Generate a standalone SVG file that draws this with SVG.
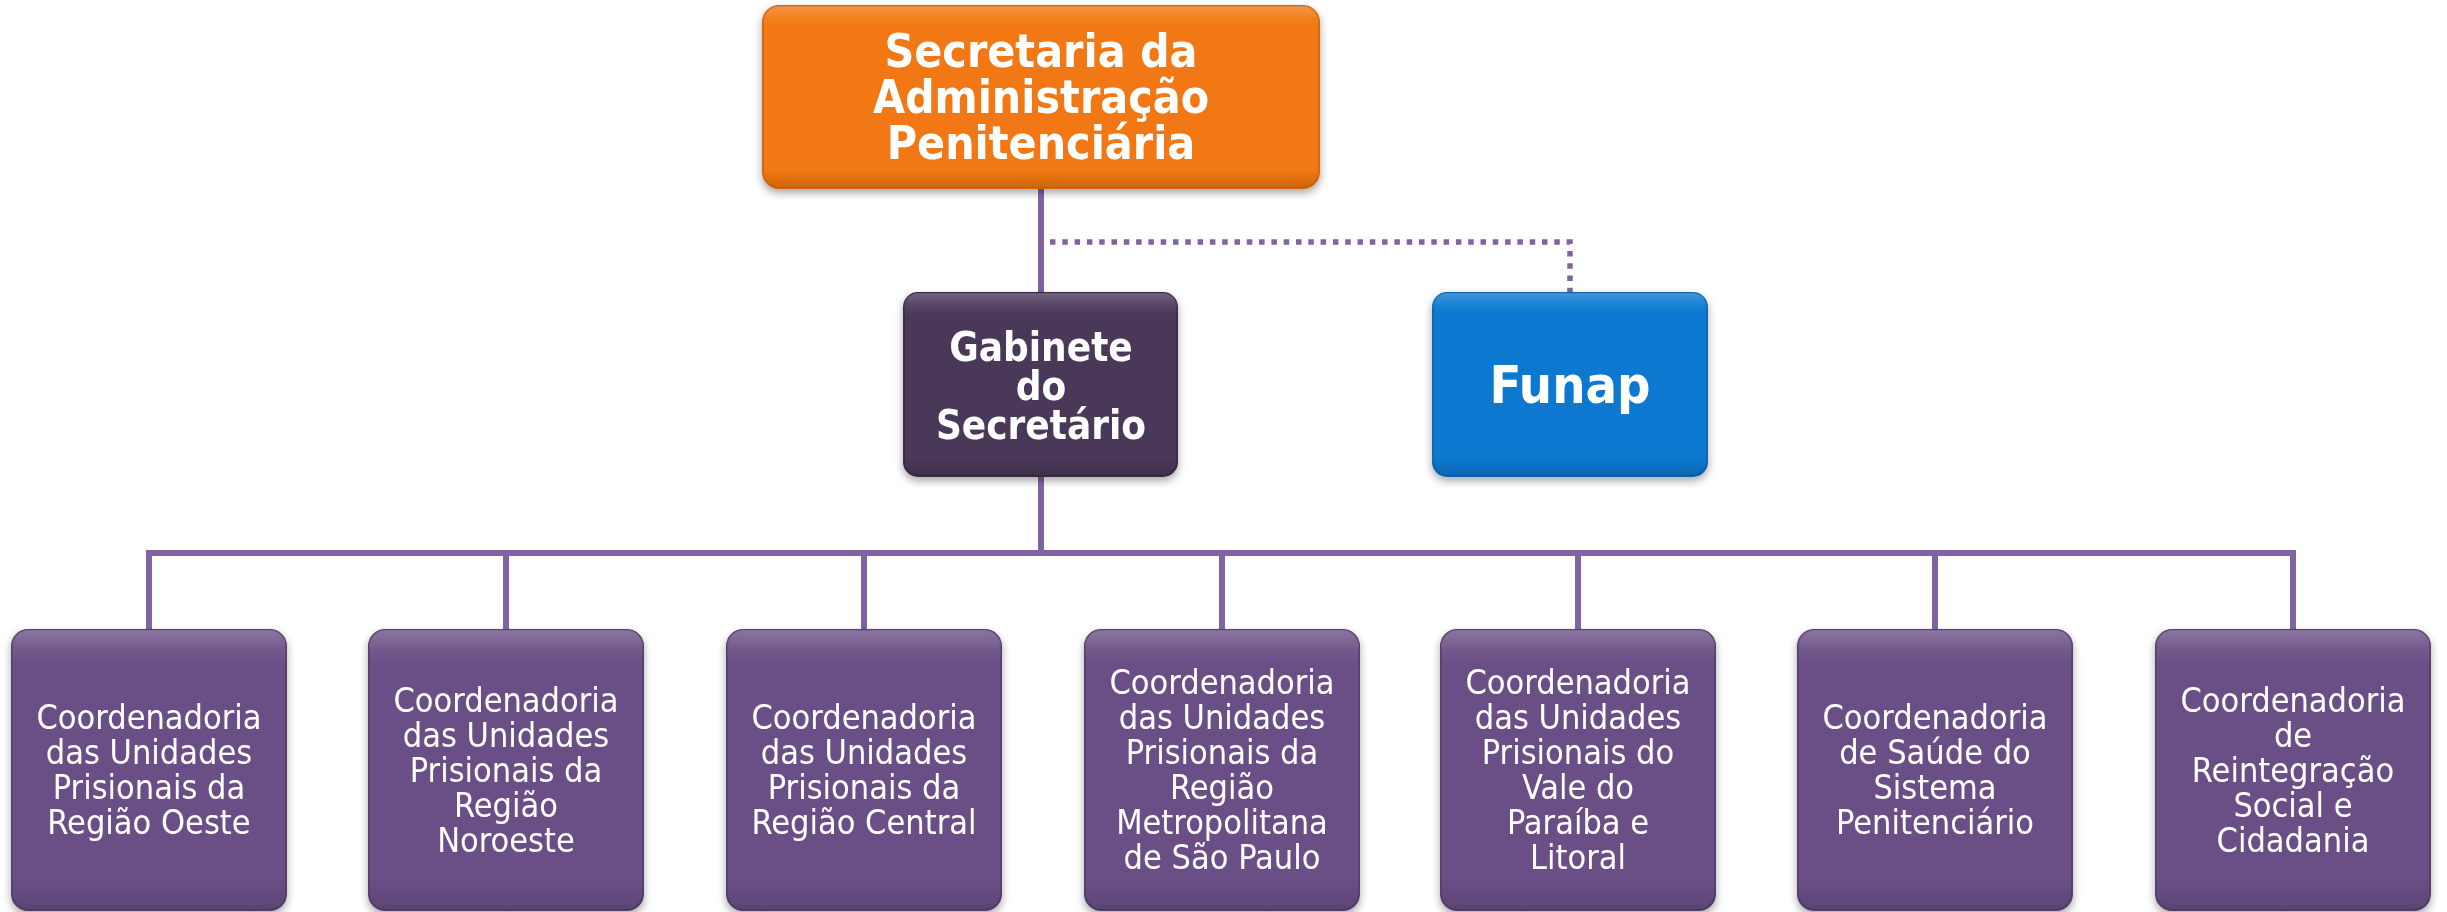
<svg xmlns="http://www.w3.org/2000/svg" width="2447" height="912" viewBox="0 0 2447 912">
<style>
.node rect.b{stroke-width:2}
.top rect.b{fill:#F27812;stroke:#D8680E}
.gab rect.b{fill:#4A3859;stroke:#3B2C48}
.fun rect.b{fill:#0A78D0;stroke:#0868B6}
.co rect.b{fill:#6A4F86;stroke:#584070}
rect.v{fill:url(#bev);stroke:none}
.bt{font-family:"DejaVu Sans Condensed","DejaVu Sans",sans-serif;font-weight:bold;fill:#fff;text-anchor:middle}
.rt{font-family:"DejaVu Sans Condensed","DejaVu Sans",sans-serif;fill:#fff;text-anchor:middle;font-size:34px}
.conn line,.conn path{stroke:#8064A2;stroke-width:6;fill:none}
.conn .dot{stroke-width:5.5;stroke-dasharray:5.5 6.8}
</style>
<defs>
<filter id="sh" x="-10%" y="-10%" width="120%" height="130%">
<feDropShadow dx="0" dy="4" stdDeviation="4" flood-color="#000" flood-opacity="0.35"/>
</filter>
<linearGradient id="bev" x1="0" y1="0" x2="0" y2="1">
<stop offset="0" stop-color="#fff" stop-opacity="0.22"/>
<stop offset="0.07" stop-color="#fff" stop-opacity="0.06"/>
<stop offset="0.12" stop-color="#fff" stop-opacity="0"/>
<stop offset="0.9" stop-color="#000" stop-opacity="0"/>
<stop offset="1" stop-color="#000" stop-opacity="0.15"/>
</linearGradient>
</defs>
<rect width="2447" height="912" fill="#fff"/>
<g id="connectors" class="conn">
<line x1="1041" y1="186" x2="1041" y2="295"/>
<path class="dot" d="M1050 242 H1570 V292"/>
<line x1="1041" y1="474" x2="1041" y2="553"/>
<line x1="149" y1="553" x2="2293" y2="553"/>
<line x1="149" y1="550" x2="149" y2="631"/>
<line x1="506" y1="550" x2="506" y2="631"/>
<line x1="864" y1="550" x2="864" y2="631"/>
<line x1="1222" y1="550" x2="1222" y2="631"/>
<line x1="1578" y1="550" x2="1578" y2="631"/>
<line x1="1935" y1="550" x2="1935" y2="631"/>
<line x1="2293" y1="550" x2="2293" y2="631"/>
</g>
<g id="secretaria" class="node top" filter="url(#sh)">
<rect class="b" x="763" y="6" width="556" height="182" rx="16"/>
<rect class="v" x="763" y="6" width="556" height="182" rx="16"/>
<text class="bt" font-size="46"><tspan x="1041" y="67">Secretaria da</tspan><tspan x="1041" y="113">Administração</tspan><tspan x="1041" y="159">Penitenciária</tspan></text>
</g>
<g id="gabinete" class="node gab" filter="url(#sh)">
<rect class="b" x="904" y="293" width="273" height="183" rx="14"/>
<rect class="v" x="904" y="293" width="273" height="183" rx="14"/>
<text class="bt" font-size="40"><tspan x="1041" y="361">Gabinete</tspan><tspan x="1041" y="400">do</tspan><tspan x="1041" y="439">Secretário</tspan></text>
</g>
<g id="funap" class="node fun" filter="url(#sh)">
<rect class="b" x="1433" y="293" width="274" height="183" rx="14"/>
<rect class="v" x="1433" y="293" width="274" height="183" rx="14"/>
<text class="bt" font-size="52" x="1570" y="403">Funap</text>
</g>
<g id="c1" class="node co" filter="url(#sh)">
<rect class="b" x="12" y="630" width="274" height="280" rx="16"/>
<rect class="v" x="12" y="630" width="274" height="280" rx="16"/>
<text class="rt"><tspan x="149" y="729">Coordenadoria</tspan><tspan x="149" y="764">das Unidades</tspan><tspan x="149" y="799">Prisionais da</tspan><tspan x="149" y="834">Região Oeste</tspan></text>
</g>
<g id="c2" class="node co" filter="url(#sh)">
<rect class="b" x="369" y="630" width="274" height="280" rx="16"/>
<rect class="v" x="369" y="630" width="274" height="280" rx="16"/>
<text class="rt"><tspan x="506" y="712">Coordenadoria</tspan><tspan x="506" y="747">das Unidades</tspan><tspan x="506" y="782">Prisionais da</tspan><tspan x="506" y="817">Região</tspan><tspan x="506" y="852">Noroeste</tspan></text>
</g>
<g id="c3" class="node co" filter="url(#sh)">
<rect class="b" x="727" y="630" width="274" height="280" rx="16"/>
<rect class="v" x="727" y="630" width="274" height="280" rx="16"/>
<text class="rt"><tspan x="864" y="729">Coordenadoria</tspan><tspan x="864" y="764">das Unidades</tspan><tspan x="864" y="799">Prisionais da</tspan><tspan x="864" y="834">Região Central</tspan></text>
</g>
<g id="c4" class="node co" filter="url(#sh)">
<rect class="b" x="1085" y="630" width="274" height="280" rx="16"/>
<rect class="v" x="1085" y="630" width="274" height="280" rx="16"/>
<text class="rt"><tspan x="1222" y="694">Coordenadoria</tspan><tspan x="1222" y="729">das Unidades</tspan><tspan x="1222" y="764">Prisionais da</tspan><tspan x="1222" y="799">Região</tspan><tspan x="1222" y="834">Metropolitana</tspan><tspan x="1222" y="869">de São Paulo</tspan></text>
</g>
<g id="c5" class="node co" filter="url(#sh)">
<rect class="b" x="1441" y="630" width="274" height="280" rx="16"/>
<rect class="v" x="1441" y="630" width="274" height="280" rx="16"/>
<text class="rt"><tspan x="1578" y="694">Coordenadoria</tspan><tspan x="1578" y="729">das Unidades</tspan><tspan x="1578" y="764">Prisionais do</tspan><tspan x="1578" y="799">Vale do</tspan><tspan x="1578" y="834">Paraíba e</tspan><tspan x="1578" y="869">Litoral</tspan></text>
</g>
<g id="c6" class="node co" filter="url(#sh)">
<rect class="b" x="1798" y="630" width="274" height="280" rx="16"/>
<rect class="v" x="1798" y="630" width="274" height="280" rx="16"/>
<text class="rt"><tspan x="1935" y="729">Coordenadoria</tspan><tspan x="1935" y="764">de Saúde do</tspan><tspan x="1935" y="799">Sistema</tspan><tspan x="1935" y="834">Penitenciário</tspan></text>
</g>
<g id="c7" class="node co" filter="url(#sh)">
<rect class="b" x="2156" y="630" width="274" height="280" rx="16"/>
<rect class="v" x="2156" y="630" width="274" height="280" rx="16"/>
<text class="rt"><tspan x="2293" y="712">Coordenadoria</tspan><tspan x="2293" y="747">de</tspan><tspan x="2293" y="782">Reintegração</tspan><tspan x="2293" y="817">Social e</tspan><tspan x="2293" y="852">Cidadania</tspan></text>
</g>
</svg>
